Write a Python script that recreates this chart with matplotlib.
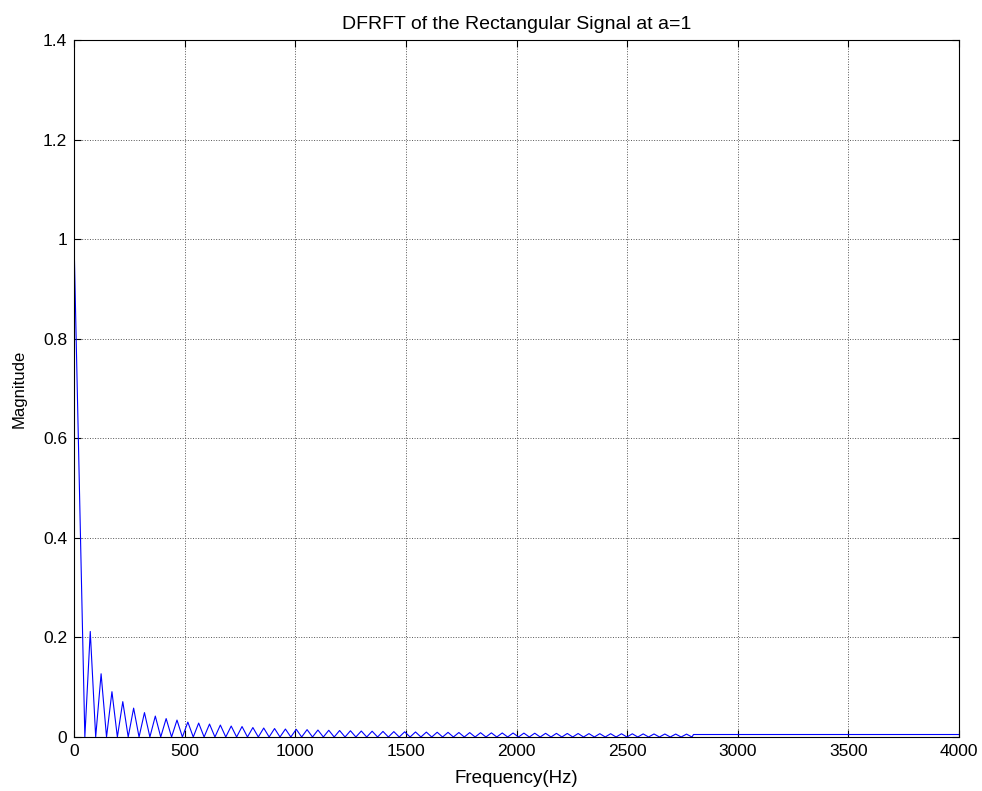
import numpy as np
import matplotlib
matplotlib.use("Agg")
import matplotlib.pyplot as plt

plt.rcParams['font.family'] = ['Liberation Sans', 'DejaVu Sans']

# frequency bin spacing of the spectrum (Hz)
bin_hz = 24.5

# main lobe samples: bins 0 and 1
main_lobe = [1.0, 0.5]

# side lobe peaks (odd bins 3, 5, 7, ...), zeros sit on the even bins in between
side_peaks = [0.212, 0.127, 0.091, 0.071, 0.058, 0.049, 0.042, 0.037, 0.034, 0.030,
              0.028, 0.026, 0.024, 0.022, 0.021, 0.019, 0.018, 0.017, 0.016, 0.0155,
              0.0148, 0.014, 0.0135, 0.013, 0.0125, 0.012, 0.0116, 0.0112, 0.0108, 0.0104,
              0.0101, 0.0098, 0.0095, 0.0093, 0.009, 0.0088, 0.0086, 0.0083, 0.0081, 0.008,
              0.0078, 0.0076, 0.0074, 0.0073, 0.0071, 0.007, 0.0068, 0.0067, 0.0066, 0.0065,
              0.0064, 0.0062, 0.0061, 0.006, 0.0059, 0.0058]

# flat tail after the last side lobe
tail_freq = [2800, 4000]
tail_mag = [0.005, 0.005]

mag = list(main_lobe)
for p in side_peaks:
    mag += [0.0, p]
mag.append(0.0)
freq = list(np.arange(len(mag)) * bin_hz)
freq += tail_freq
mag += tail_mag

fig = plt.figure(figsize=(9.82, 7.91), dpi=100)
ax = fig.add_axes([74 / 982, 54 / 791, 885 / 982, 697 / 791])

ax.plot(freq, mag, color=(0, 0, 1), lw=0.8)

ax.set_xlim(0, 4000)
ax.set_ylim(0, 1.4)
ax.set_xticks(np.arange(0, 4001, 500))
ax.set_yticks([0, 0.2, 0.4, 0.6, 0.8, 1, 1.2, 1.4])
ax.set_yticklabels(['0', '0.2', '0.4', '0.6', '0.8', '1', '1.2', '1.4'])

ax.grid(True, color='#555555', ls=':', lw=0.7)
ax.tick_params(direction='in', top=True, right=True, length=5, width=0.8,
               labelsize=12.5, pad=5)
for s in ax.spines.values():
    s.set_linewidth(0.8)

ax.set_title('DFRFT of the Rectangular Signal at a=1', fontsize=14, pad=8)
ax.set_xlabel('Frequency(Hz)', fontsize=13.5, labelpad=8)
ax.set_ylabel('Magnitude', fontsize=12, labelpad=12)

fig.savefig('out.png', dpi=100)
